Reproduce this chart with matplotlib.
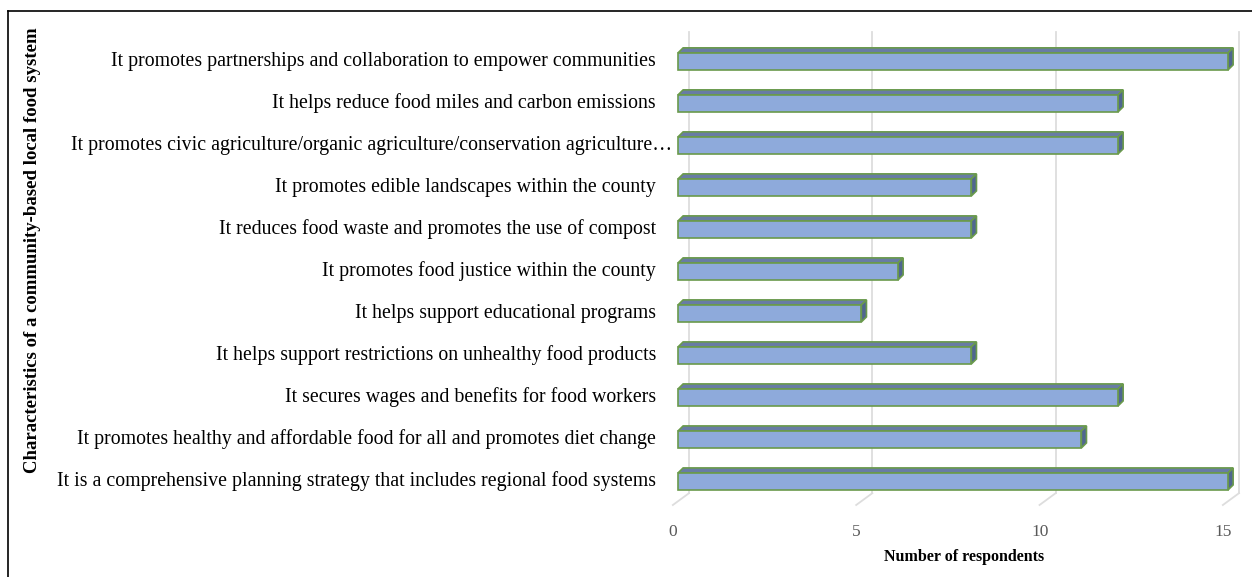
import matplotlib
matplotlib.use('Agg')
import matplotlib.pyplot as plt
from matplotlib.patches import Polygon
from matplotlib.lines import Line2D
from matplotlib.transforms import ScaledTranslation

plt.rcParams['font.family'] = ['Liberation Serif', 'DejaVu Serif']

# categories listed top to bottom
labels = [
    'It promotes partnerships and collaboration to empower communities',
    'It helps reduce food miles and carbon emissions',
    'It promotes civic agriculture/organic agriculture/conservation agriculture\u2026',
    'It promotes edible landscapes within the county',
    'It reduces food waste and promotes the use of compost',
    'It promotes food justice within the county',
    'It helps support educational programs',
    'It helps support restrictions on unhealthy food products',
    'It secures wages and benefits for food workers',
    'It promotes healthy and affordable food for all and promotes diet change',
    'It is a comprehensive planning strategy that includes regional food systems',
]
counts = [15, 12, 12, 8, 8, 6, 5, 8, 12, 11, 15]
xticks = [0, 5, 10, 15]

front_col = '#8eaadb'
top_col = '#687ca4'
side_col = '#4f6690'
edge_col = '#6a9a4c'

W, H = 1252, 577
fig = plt.figure(figsize=(W / 100, H / 100), dpi=100)
ax = fig.add_axes([678 / W, (H - 505) / H, 550 / W, 473 / H])

n = len(labels)
ys = [n - 1 - i for i in range(n)]
bh = 0.405
dx, dy = 0.14, 0.12

ax.set_xlim(0, 15)
ax.set_ylim(-0.56, 10.70)

# 3d-looking grid: back wall lines + floor diagonals
xt = ax.get_xaxis_transform()
for v in xticks:
    ax.add_line(Line2D([v + 0.30, v + 0.30], [0.025, 1], transform=xt, color='#dddddd',
                       lw=1.3, zorder=0, clip_on=False))
    ax.add_line(Line2D([v + 0.30, v - 0.14], [0.025, 0], transform=xt, color='#dddddd',
                       lw=1.3, zorder=0, clip_on=False))

bars = ax.barh(ys, counts, height=bh, color=front_col, edgecolor=edge_col, lw=1.2, zorder=3)
for r in bars:
    r.set_clip_on(False)
for y, v in zip(ys, counts):
    t = y + bh / 2
    b = y - bh / 2
    ax.add_patch(Polygon([(0, t), (v, t), (v + dx, t + dy), (dx, t + dy)],
                         closed=True, fc=top_col, ec=edge_col, lw=1.2, zorder=2, clip_on=False))
    ax.add_patch(Polygon([(v, b), (v + dx, b + dy), (v + dx, t + dy), (v, t)],
                         closed=True, fc=side_col, ec=edge_col, lw=1.2, zorder=2, clip_on=False))

for sp in ax.spines.values():
    sp.set_visible(False)

ax.set_yticks([])
ax.set_xticks(xticks)
ax.set_xticklabels([str(v) for v in xticks], color='#595959', fontsize=12.5)
ax.tick_params(axis='x', length=0, pad=14)
off = ScaledTranslation(-5 / 100, 0, fig.dpi_scale_trans)
for lab in ax.get_xticklabels():
    lab.set_transform(lab.get_transform() + off)

yt = ax.get_yaxis_transform()
for y, lab in zip(ys, labels):
    xpos = -0.01 if lab.endswith('\u2026') else -0.04
    ax.text(xpos, y, lab, transform=yt, ha='right', va='center', fontsize=14.3, color='black')

fig.text(964 / W, 1 - 557 / H, 'Number of respondents', ha='center', va='center',
         fontsize=11.5, fontweight='bold')
fig.text(33 / W, 1 - 250 / H, 'Characteristics of a community-based local food system',
         rotation=90, ha='center', va='center', fontsize=13.5, fontweight='bold')

# chart border (left and top visible)
bx, by = 8 / W, 1 - 10.5 / H
fig.add_artist(Line2D([bx, bx], [0, by], color='black', lw=1.2))
fig.add_artist(Line2D([bx, 1], [by, by], color='black', lw=1.2))

fig.savefig('out.png', dpi=100)
